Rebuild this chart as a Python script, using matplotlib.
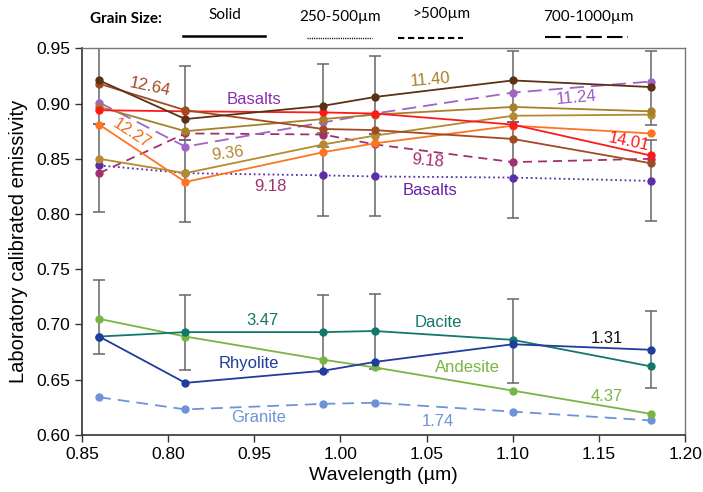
import matplotlib
matplotlib.use("Agg")
import matplotlib.pyplot as plt
from matplotlib.lines import Line2D
import numpy as np

plt.rcParams['font.family'] = ['Liberation Sans', 'DejaVu Sans']

# ---------------- data ----------------
wavelength = [0.86, 0.91, 0.99, 1.02, 1.10, 1.18]
xtick_pos = [0.85, 0.90, 0.95, 1.00, 1.05, 1.10, 1.15, 1.20]
xtick_labels = ["0.85", "0.80", "0.95", "1.00", "1.05", "1.10", "1.15", "1.20"]
ytick_pos = [0.60, 0.65, 0.70, 0.75, 0.80, 0.85, 0.90, 0.95]

# basalts (upper group)
basalt_darkbrown = [0.921, 0.886, 0.898, 0.906, 0.921, 0.915]
basalt_brown     = [0.918, 0.894, 0.877, 0.876, 0.868, 0.846]
basalt_red       = [0.894, 0.893, 0.892, 0.891, 0.881, 0.853]
basalt_tan_a     = [0.897, 0.875, 0.886, 0.890, 0.897, 0.893]
basalt_tan_b     = [0.850, 0.837, 0.863, 0.871, 0.889, 0.890]
basalt_orange    = [0.881, 0.829, 0.856, 0.864, 0.880, 0.873]
basalt_purple    = [0.901, 0.861, 0.883, 0.891, 0.910, 0.920]   # 700-1000 um
basalt_magenta   = [0.837, 0.873, 0.872, 0.863, 0.847, 0.850]   # >500 um
basalt_indigo    = [0.844, 0.837, 0.835, 0.834, 0.833, 0.830]   # 250-500 um

# felsic / intermediate (lower group)
andesite = [0.705, 0.689, 0.668, 0.661, 0.640, 0.619]
dacite   = [0.689, 0.693, 0.693, 0.694, 0.686, 0.662]
rhyolite = [0.689, 0.647, 0.658, 0.666, 0.682, 0.677]
granite  = [0.634, 0.623, 0.628, 0.629, 0.621, 0.613]

# error bar extents
basalt_hi_top = [0.962, 0.934, 0.936, 0.943, 0.948, 0.948]
basalt_hi_bot = [0.8815, 0.867, 0.8736, 0.8725, 0.8836, 0.8806]
basalt_lo_top = [0.8815, 0.867, 0.8604, 0.8725, 0.8836, 0.867]
basalt_lo_bot = [0.802, 0.793, 0.7985, 0.7985, 0.7966, 0.7937]
felsic_top = [0.740, 0.7266, 0.7266, 0.7275, 0.723, 0.7124]
felsic_bot = [0.673, 0.6587, 0.657, 0.6596, 0.6472, 0.6427]

# ---------------- figure ----------------
fig = plt.figure(figsize=(7.03, 4.92), dpi=100)
ax = fig.add_axes([0.1166, 0.1163, 0.8580, 0.7853])

ecol = '#666666'
for top, bot in [(basalt_hi_top, basalt_hi_bot), (basalt_lo_top, basalt_lo_bot),
                 (felsic_top, felsic_bot)]:
    top = np.array(top); bot = np.array(bot)
    mid = (top + bot) / 2
    ax.errorbar(wavelength, mid, yerr=[mid - bot, top - mid], fmt='none',
                ecolor=ecol, elinewidth=1.1, capsize=4, capthick=1.1, zorder=1)

lw = 1.3
ms = 5
def plot(y, c, ls='-'):
    ax.plot(wavelength, y, color=c, lw=lw, ls=ls, marker='o', ms=ms,
            mec=c, mfc=c, zorder=3)

plot(basalt_indigo, '#5a2ea6', (0, (1, 1.6)))
plot(basalt_magenta, '#a3306e', (0, (5.0, 3.3)))
plot(basalt_purple, '#a065c4', (0, (7.8, 3.9)))
plot(basalt_orange, '#ff7420')
plot(basalt_tan_b, '#b58a30')
plot(basalt_tan_a, '#a68128')
plot(basalt_red, '#ff1a1a')
plot(basalt_brown, '#a24a22')
plot(basalt_darkbrown, '#5b3213')

plot(granite, '#6d93d8', (0, (6.5, 3.9)))
plot(andesite, '#79b543')
plot(dacite, '#12786a')
plot(rhyolite, '#1f3c9e')

ax.set_xlim(0.85, 1.20)
ax.set_ylim(0.60, 0.95)
ax.set_xticks(xtick_pos)
ax.set_xticklabels(xtick_labels)
ax.set_yticks(ytick_pos)
ax.set_yticklabels([f"{v:.2f}" for v in ytick_pos])
ax.tick_params(labelsize=12.5, direction='out', length=5, width=1, color='#333333')
for s in ['left', 'bottom']:
    ax.spines[s].set_color('#333333')
    ax.spines[s].set_linewidth(1.2)
for s in ['top', 'right']:
    ax.spines[s].set_color('#777777')
    ax.spines[s].set_linewidth(1.0)

ax.set_xlabel('Wavelength (µm)', fontsize=14, labelpad=4)
ax.set_ylabel('Laboratory calibrated emissivity', fontsize=14.5, labelpad=6)

# annotations
fs = 12
def lab(x, y, s, c, rot=0):
    ax.text(x, y, s, color=c, fontsize=fs, ha='center', va='center',
            rotation=rot, rotation_mode='anchor', zorder=5)

lab(0.8893, 0.9148, '12.64', '#a24a22', -12)
lab(0.9499, 0.9039, 'Basalts', '#8a2fb0')
lab(0.8787, 0.8731, '12.27', '#f06a1c', -33)
lab(0.9345, 0.8550, '9.36', '#b08a30', 7)
lab(0.9596, 0.8247, '9.18', '#a3306e')
lab(1.0520, 0.9220, '11.40', '#a68128', 5)
lab(1.1367, 0.9057, '11.24', '#9a5cc0', 5)
lab(1.1676, 0.8655, '14.01', '#ff1a1a', -12)
lab(1.0507, 0.8483, '9.18', '#a3306e', -5)
lab(1.0520, 0.8217, 'Basalts', '#6a1fa6')

lab(0.9548, 0.7033, '3.47', '#12786a')
lab(0.9467, 0.6648, 'Rhyolite', '#1f3c9e')
lab(0.9524, 0.6159, 'Granite', '#6d93d8')
lab(1.0568, 0.7016, 'Dacite', '#12786a')
lab(1.1548, 0.6874, '1.31', '#111111')
lab(1.0737, 0.6611, 'Andesite', '#79b543')
lab(1.1548, 0.6345, '4.37', '#79b543')
lab(1.0564, 0.6119, '1.74', '#6d93d8')

# header legend (grain size)
W, H = 703.0, 492.0
hfont = ['Lato', 'DejaVu Sans']
fig.text(126 / W, 1 - 19 / H, 'Grain Size:', fontsize=11, fontweight='bold',
         ha='center', va='center', family=hfont)
fig.text(225 / W, 1 - 15 / H, 'Solid', fontsize=11, ha='center', va='center', family=hfont)
fig.text(340 / W, 1 - 17 / H, '250-500µm', fontsize=11, ha='center', va='center', family=hfont)
fig.text(441 / W, 1 - 14 / H, '>500µm', fontsize=11, ha='center', va='center', family=hfont)
fig.text(588 / W, 1 - 17 / H, '700-1000µm', fontsize=11, ha='center', va='center', family=hfont)

def hline(x0, x1, y, ls, lw_):
    fig.add_artist(Line2D([x0 / W, x1 / W], [1 - y / H, 1 - y / H],
                          transform=fig.transFigure, color='black', lw=lw_, ls=ls))

hline(183, 265, 36, '-', 1.8)
hline(307, 372, 38, (0, (0.8, 0.8)), 1.0)
hline(398, 463, 38, (0, (3.0, 1.8)), 1.5)
hline(545, 628, 37, (0, (7.5, 2.4)), 1.5)

fig.savefig('out.png', dpi=100)
